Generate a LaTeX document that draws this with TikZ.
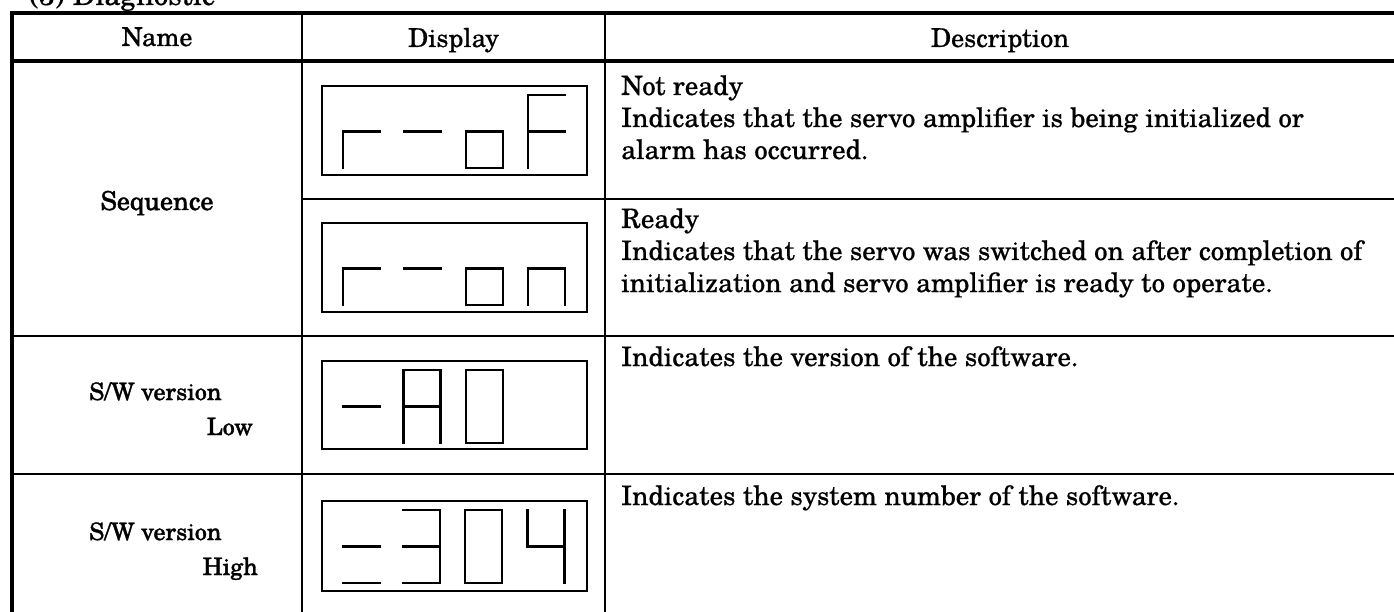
\documentclass[tikz,border=0pt]{standalone}
\usepackage{fontspec}
\setmainfont{texgyreschola}[Extension=.otf,UprightFont=*-regular,BoldFont=*-bold,ItalicFont=*-italic,BoldItalicFont=*-bolditalic,FakeBold=0.5]
\newfontfamily\heavyfont{texgyreschola}[Extension=.otf,UprightFont=*-regular,FakeBold=1.4]
\begin{document}
\begin{tikzpicture}[x=1pt,y=-1pt,
  tframe/.style={line width=3.4pt},
  hline/.style={line width=2.4pt},
  vline/.style={line width=1.8pt},
  dbox/.style={draw,line width=2.2pt},
  seg/.style={line width=2.2pt,line cap=rect},
  hdr/.style={font=\fontsize{26}{30}\selectfont,inner sep=0pt,anchor=base},
  nm/.style={font=\heavyfont\fontsize{26}{30}\selectfont,inner sep=0pt,anchor=base},
  sw/.style={font=\heavyfont\fontsize{24}{28}\selectfont,inner sep=0pt},
  desc/.style={font=\fontsize{26.8}{32}\selectfont,inner sep=0pt,anchor=base west},
  sa/.pic={\draw[seg] (0,0) -- (37,0);},
  sb/.pic={\draw[seg] (37,0) -- (37,36.5);},
  sc/.pic={\draw[seg] (37,36.5) -- (37,73);},
  sd/.pic={\draw[seg] (0,73) -- (37,73);},
  se/.pic={\draw[seg] (0,36.5) -- (0,73);},
  sf/.pic={\draw[seg] (0,0) -- (0,36.5);},
  sg/.pic={\draw[seg] (0,36.5) -- (37,36.5);}
]
\useasboundingbox (0,0) rectangle (1394,612);

% title (cut off at top, as in the reference)
\node[font=\fontsize{29}{32}\selectfont,inner sep=0pt,anchor=base west] (title) at (29,5) {(3) Diagnostic};

% table frame
\draw[tframe] (1400,13) -- (12,13) -- (12,616) -- (1400,616);
\draw[line width=3.6pt] (12,61) -- (1400,61);
\draw[hline] (302,199) -- (1400,199);
\draw[hline] (12,336) -- (1400,336);
\draw[hline] (12,474) -- (1400,474);
\draw[vline] (302,13) -- (302,616);
\draw[line width=2.6pt] (605,13) -- (605,616);

% header
\node[hdr] (hname) at (157,46) {Name};
\node[hdr] (hdisp) at (453.5,47) {Display};
\node[hdr] (hdesc) at (1000,47) {Description};

% name column
\node[nm] (seq) at (157,210) {Sequence};
\node[sw,anchor=base west] (sw1) at (89,400) {S/W version};
\node[sw,anchor=base east] (low) at (253,435) {Low};
\node[sw,anchor=base west] (sw2) at (89,540) {S/W version};
\node[sw,anchor=base east] (high) at (258,575) {High};

% display boxes
\draw[dbox] (322,86) rectangle (587,175);
\draw[dbox] (322,223) rectangle (587,312);
\draw[dbox] (322,361) rectangle (587,449);
\draw[dbox] (322,501) rectangle (587,591);

% box 1: r - o F
\pic at (342.7,95) {sg}; \pic at (342.7,95) {se};
\pic at (404,95) {sg};
\pic at (466.2,95) {sg}; \pic at (466.2,95) {sc}; \pic at (466.2,95) {sd}; \pic at (466.2,95) {se};
\pic at (527.7,95) {sa}; \pic at (527.7,95) {sf}; \pic at (527.7,95) {se}; \pic at (527.7,95) {sg};

% box 2: r - o n
\pic at (342.7,232) {sg}; \pic at (342.7,232) {se};
\pic at (404,232) {sg};
\pic at (466.2,232) {sg}; \pic at (466.2,232) {sc}; \pic at (466.2,232) {sd}; \pic at (466.2,232) {se};
\pic at (527.7,232) {sg}; \pic at (527.7,232) {se}; \pic at (527.7,232) {sc};

% box 3: - A 0
\pic at (342.7,370) {sg};
\pic at (403.5,370) {sa}; \pic at (403.5,370) {sb}; \pic at (403.5,370) {sc};
\pic at (403.5,370) {se}; \pic at (403.5,370) {sf}; \pic at (403.5,370) {sg};
\pic at (466,370) {sa}; \pic at (466,370) {sb}; \pic at (466,370) {sc};
\pic at (466,370) {sd}; \pic at (466,370) {se}; \pic at (466,370) {sf};

% box 4: = 3 0 4
\pic at (342.7,510) {sg}; \pic at (342.7,510) {sd};
\pic at (403,510) {sa}; \pic at (403,510) {sb}; \pic at (403,510) {sg};
\pic at (403,510) {sc}; \pic at (403,510) {sd};
\pic at (465,510) {sa}; \pic at (465,510) {sb}; \pic at (465,510) {sc};
\pic at (465,510) {sd}; \pic at (465,510) {se}; \pic at (465,510) {sf};
\pic at (527.5,510) {sf}; \pic at (527.5,510) {sg}; \pic at (527.5,510) {sb}; \pic at (527.5,510) {sc};

% descriptions
\node[desc] (d1a) at (621,95) {Not ready};
\node[desc] (d1b) at (621,127) {Indicates that the servo amplifier is being initialized or};
\node[desc] (d1c) at (621,159) {alarm has occurred.};
\node[desc] (d2a) at (621,228) {Ready};
\node[desc] (d2b) at (621,260) {Indicates that the servo was switched on after completion of};
\node[desc] (d2c) at (621,292) {initialization and servo amplifier is ready to operate.};
\node[desc] (d3a) at (621,366) {Indicates the version of the software.};
\node[desc] (d4a) at (621,505) {Indicates the system number of the software.};
\end{tikzpicture}
\end{document}
